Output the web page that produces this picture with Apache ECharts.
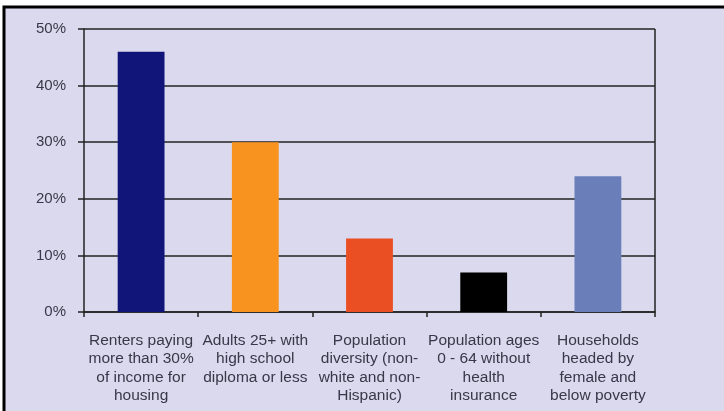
<!DOCTYPE html>
<html>
<head>
<meta charset="utf-8">
<script src="https://cdn.jsdelivr.net/npm/echarts@6/dist/echarts.min.js"></script>
<style>
html,body{margin:0;padding:0;background:#fff;}
#chart{width:724px;height:411px;}
</style>
</head>
<body>
<div id="chart"></div>
<script>
var categories = [
  "Renters paying\nmore than 30%\nof income for\nhousing",
  "Adults 25+ with\nhigh school\ndiploma or less",
  "Population\ndiversity (non-\nwhite and non-\nHispanic)",
  "Population ages\n0 - 64 without\nhealth\ninsurance",
  "Households\nheaded by\nfemale and\nbelow poverty"
];
var values = [46, 30, 13, 7, 24];
var barColors = ["#11157A", "#F7931E", "#EA4F24", "#000000", "#6A7FBA"];
var yTicks = [0, 10, 20, 30, 40, 50];

var chart = echarts.init(document.getElementById('chart'));
chart.setOption({
  animation: false,
  backgroundColor: '#ffffff',
  graphic: [{
    type: 'rect', z: -10,
    shape: {x: 4, y: 7, width: 740, height: 430},
    style: {fill: '#DAD9ED', stroke: '#000', lineWidth: 3}
  }, {
    type: 'line', z: 10,
    shape: {x1: 655, y1: 29, x2: 655, y2: 312},
    style: {stroke: '#222', lineWidth: 1.5}
  }],
  grid: {left: 84, right: 69, top: 29, bottom: 99},
  xAxis: {
    type: 'category',
    data: categories,
    boundaryGap: true,
    axisLine: {lineStyle: {color: '#222', width: 1.5}},
    axisTick: {show: true, alignWithLabel: false, length: 5, lineStyle: {color: '#222', width: 1.5}},
    axisLabel: {
      interval: 0, margin: 19, color: '#383848',
      fontFamily: 'Liberation Sans, Arial, sans-serif', fontSize: 15.5, lineHeight: 18.5
    }
  },
  yAxis: {
    type: 'value', min: 0, max: 50, interval: 10,
    axisLine: {show: true, lineStyle: {color: '#222', width: 1.5}},
    axisTick: {show: true, length: 6, lineStyle: {color: '#222', width: 1.5}},
    splitLine: {show: true, lineStyle: {color: '#222', width: 1.5}},
    axisLabel: {
      margin: 18, color: '#383848',
      fontFamily: 'Liberation Sans, Arial, sans-serif', fontSize: 15,
      formatter: function (v) { return yTicks.indexOf(v) >= 0 ? v + '%' : ''; }
    }
  },
  series: [{
    type: 'bar',
    barWidth: '41%',
    data: values.map(function (v, i) { return {value: v, itemStyle: {color: barColors[i]}}; })
  }]
});
</script>
</body>
</html>
